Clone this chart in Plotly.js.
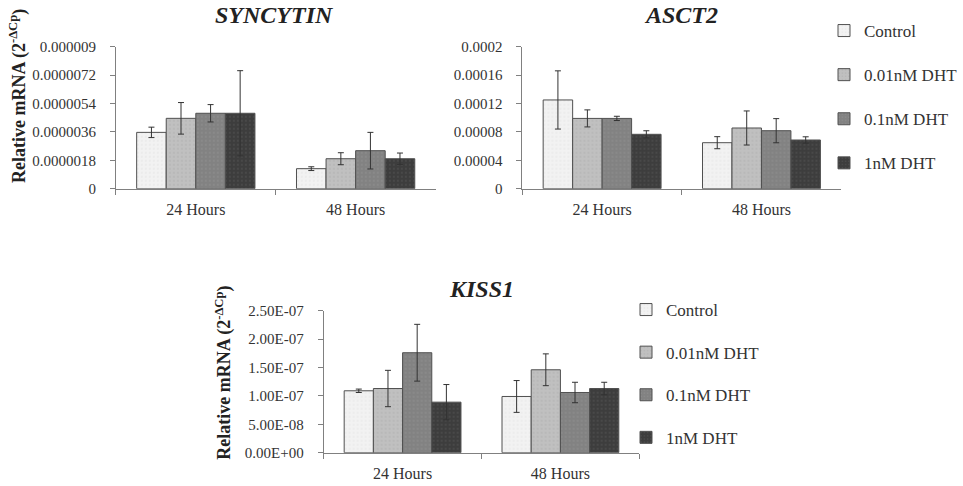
<!DOCTYPE html>
<html>
<head>
<meta charset="utf-8">
<script src="https://cdn.plot.ly/plotly-3.0.1.min.js"></script>
<style>html,body{margin:0;padding:0;background:#fff;}#chart{width:963px;height:486px;}</style>
</head>
<body>
<div id="chart"></div>
<script>
// ---- data ----
const categories = ["24 Hours", "48 Hours"];
const seriesNames = ["Control", "0.01nM DHT", "0.1nM DHT", "1nM DHT"];
const seriesColors = ["#f2f2f2", "#c0c0c0", "#828282", "#3d3d3d"];

// SYNCYTIN
const syncytinValues = [
  [3.57e-6, 1.27e-6],
  [4.46e-6, 1.90e-6],
  [4.78e-6, 2.41e-6],
  [4.78e-6, 1.90e-6]
];
const syncytinErrors = [
  [0.33e-6, 0.12e-6],
  [1.00e-6, 0.38e-6],
  [0.55e-6, 1.16e-6],
  [2.70e-6, 0.36e-6]
];
const syncytinTickVals = [0, 1.8e-6, 3.6e-6, 5.4e-6, 7.2e-6, 9e-6];
const syncytinTickText = ["0", "0.0000018", "0.0000036", "0.0000054", "0.0000072", "0.000009"];

// ASCT2
const asct2Values = [
  [1.25e-4, 6.48e-5],
  [9.9e-5, 8.55e-5],
  [9.9e-5, 8.17e-5],
  [7.66e-5, 6.86e-5]
];
const asct2Errors = [
  [4.1e-5, 0.85e-5],
  [1.2e-5, 2.4e-5],
  [0.3e-5, 1.7e-5],
  [0.5e-5, 0.45e-5]
];
const asct2TickVals = [0, 4e-5, 8e-5, 1.2e-4, 1.6e-4, 2e-4];
const asct2TickText = ["0", "0.00004", "0.00008", "0.00012", "0.00016", "0.0002"];

// KISS1
const kiss1Values = [
  [1.09e-7, 0.99e-7],
  [1.13e-7, 1.46e-7],
  [1.76e-7, 1.06e-7],
  [0.89e-7, 1.13e-7]
];
const kiss1Errors = [
  [0.03e-7, 0.28e-7],
  [0.32e-7, 0.28e-7],
  [0.50e-7, 0.18e-7],
  [0.31e-7, 0.11e-7]
];
const kiss1TickVals = [0, 5e-8, 1e-7, 1.5e-7, 2e-7, 2.5e-7];
const kiss1TickText = ["0.00E+00", "5.00E-08", "1.00E-07", "1.50E-07", "2.00E-07", "2.50E-07"];

const panelTitles = ["SYNCYTIN", "ASCT2", "KISS1"];
const yTitle = "Relative mRNA (2<sup>-ΔCp</sup>)";

// ---- build ----
const serif = "'Liberation Serif', 'Times New Roman', serif";
const traces = [];
function addPanel(values, errors, xa, ya, legendName, showLegend) {
  for (let i = 0; i < seriesNames.length; i++) {
    traces.push({
      type: "bar",
      name: seriesNames[i],
      x: categories,
      y: values[i],
      xaxis: xa,
      yaxis: ya,
      legend: legendName,
      legendgroup: legendName + i,
      showlegend: showLegend,
      marker: {
        color: seriesColors[i],
        line: {color: "#505050", width: 1},
        pattern: {shape: ".", size: 4, solidity: 0.15, bgcolor: seriesColors[i],
          fgcolor: i === 0 ? "#d8d8d8" : (i === 3 ? "#6a6a6a" : "#a0a0a0"), fgopacity: 0.5}
      },
      error_y: {type: "data", array: errors[i], visible: true, color: "#333333", thickness: 1, width: 3}
    });
  }
}
addPanel(syncytinValues, syncytinErrors, "x", "y", "legend", false);
addPanel(asct2Values, asct2Errors, "x2", "y2", "legend", true);
addPanel(kiss1Values, kiss1Errors, "x3", "y3", "legend2", true);

const xTickFont = {family: serif, size: 16, color: "#333333"};
const yTickFont = {family: serif, size: 15, color: "#333333"};
function xAxis(domain, anchor) {
  return {domain: domain, anchor: anchor, type: "category", showline: true, linecolor: "#808080", linewidth: 1,
    ticks: "outside", tickson: "boundaries", ticklen: 5, tickcolor: "#808080", tickfont: xTickFont,
    ticklabelstandoff: 6, showgrid: false, zeroline: false, fixedrange: true};
}
function yAxis(domain, anchor, range, tv, tt) {
  return {domain: domain, anchor: anchor, range: range, tickvals: tv, ticktext: tt, showline: true,
    linecolor: "#808080", linewidth: 1, ticks: "outside", ticklen: 5, tickcolor: "#808080",
    tickfont: yTickFont, ticklabelstandoff: 11, showgrid: false, zeroline: false, fixedrange: true};
}

const W = 963, H = 486;
const px = v => v / W, py = v => 1 - v / H;

const legendFont = {family: serif, size: 17, color: "#333333"};
const layout = {
  width: W, height: H,
  margin: {l: 0, r: 0, t: 0, b: 0},
  paper_bgcolor: "#ffffff", plot_bgcolor: "#ffffff",
  barmode: "group", bargap: 0.26, bargroupgap: 0,
  font: {family: serif, color: "#333333"},
  xaxis: xAxis([px(116), px(436)], "y"),
  yaxis: yAxis([py(188.7), py(46.7)], "x", [0, 9e-6], syncytinTickVals, syncytinTickText),
  xaxis2: xAxis([px(523), px(842)], "y2"),
  yaxis2: yAxis([py(188.7), py(46.7)], "x2", [0, 2e-4], asct2TickVals, asct2TickText),
  xaxis3: xAxis([px(324), px(640)], "y3"),
  yaxis3: yAxis([py(452.7), py(310.7)], "x3", [0, 2.5e-7], kiss1TickVals, kiss1TickText),
  legend: {x: px(825), y: py(13), xanchor: "left", yanchor: "top", traceorder: "grouped", tracegroupgap: 19,
    font: legendFont, bgcolor: "rgba(0,0,0,0)", itemwidth: 30},
  legend2: {x: px(626), y: py(292), xanchor: "left", yanchor: "top", traceorder: "grouped", tracegroupgap: 17.5,
    font: legendFont, bgcolor: "rgba(0,0,0,0)", itemwidth: 30},
  annotations: [
    {text: "<b><i>" + panelTitles[0] + "</i></b>", xref: "paper", yref: "paper", x: px(275), y: py(15), showarrow: false,
      xanchor: "center", yanchor: "middle", font: {family: serif, size: 24, color: "#222222"}},
    {text: "<b><i>" + panelTitles[1] + "</i></b>", xref: "paper", yref: "paper", x: px(682), y: py(15), showarrow: false,
      xanchor: "center", yanchor: "middle", font: {family: serif, size: 24, color: "#222222"}},
    {text: "<b><i>" + panelTitles[2] + "</i></b>", xref: "paper", yref: "paper", x: px(482), y: py(289), showarrow: false,
      xanchor: "center", yanchor: "middle", font: {family: serif, size: 24, color: "#222222"}},
    {text: "<b>" + yTitle + "</b>", xref: "paper", yref: "paper", x: px(18), y: py(96), showarrow: false, textangle: -90,
      xanchor: "center", yanchor: "middle", font: {family: serif, size: 18, color: "#222222"}},
    {text: "<b>" + yTitle + "</b>", xref: "paper", yref: "paper", x: px(224), y: py(373), showarrow: false, textangle: -90,
      xanchor: "center", yanchor: "middle", font: {family: serif, size: 18, color: "#222222"}}
  ]
};

Plotly.newPlot("chart", traces, layout, {staticPlot: true, displayModeBar: false});
</script>
</body>
</html>
